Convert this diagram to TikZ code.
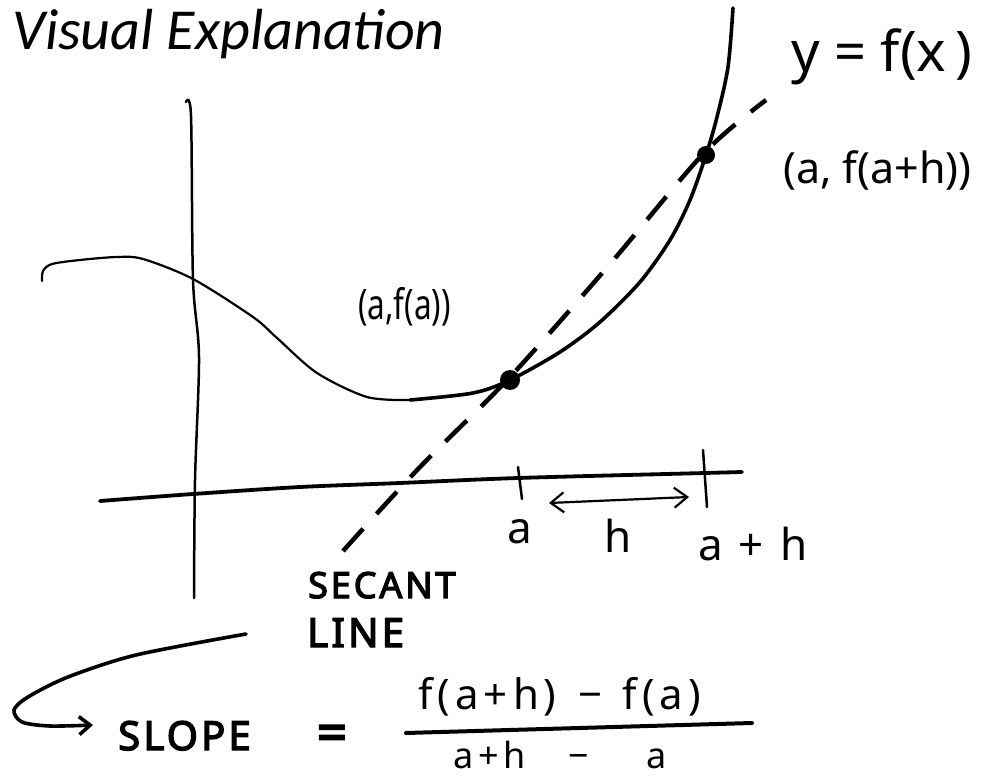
\documentclass[tikz,border=0pt]{standalone}
\usepackage{fontspec}
\usepackage{graphicx}
\setmainfont{Noto Sans}
\newfontfamily\titlefont{Carlito}
\newfontfamily\hand{Noto Sans}
\newfontfamily\handsp{Noto Sans}[LetterSpace=12]
\newfontfamily\capsp{Noto Sans}[LetterSpace=8,FakeBold=3.5]
\newfontfamily\handbold{Noto Sans}[FakeBold=4]
\usetikzlibrary{arrows.meta}
\begin{document}
\begin{tikzpicture}[x=1pt,y=-1pt,
  ink/.style={line cap=round,line join=round},
  thininkline/.style={ink,line width=2.2pt},
  thickinkline/.style={ink,line width=3.6pt},
  axisline/.style={ink,line width=3.8pt},
  tickline/.style={ink,line width=2.5pt},
  secantline/.style={line width=4.5pt,dash pattern=on 30pt off 20pt},
  txt/.style={inner sep=0pt,anchor=base west},
  hand/.style={font={\hand\fontsize{#1}{#1}\selectfont}},
  handsp/.style={font={\handsp\fontsize{#1}{#1}\selectfont}},
  caps/.style={font={\capsp\fontsize{#1}{#1}\selectfont}},
  barb/.tip={Straight Barb[length=13pt,width=20pt]}
]
\useasboundingbox[fill=white] (0,0) rectangle (982,783);

% title
\node[txt,font={\titlefont\itshape\fontsize{58}{60}\selectfont}] (title) at (12,50) {Visual Explanation};

% key points
\coordinate (Pa)  at (510,380);
\coordinate (Pah) at (706,155);

% y-axis
\coordinate (yTop) at (186,102);
\coordinate (yBot) at (194,598);
\draw[ink,line width=2.5pt] plot[smooth] coordinates {(yTop) (191,116) (193,280) (199,357) (195,480) (yBot)};

% x-axis
\coordinate (xLeft)  at (100,501);
\coordinate (xRight) at (742,472);
\draw[axisline] plot[smooth] coordinates {(xLeft) (193,494) (300,487) (400,483) (518,478) (705,473) (xRight)};

% ticks
\coordinate (taTop) at (518,467);  \coordinate (taBot) at (522,499);
\coordinate (tbTop) at (703,450);  \coordinate (tbBot) at (707,507);
\draw[tickline] (taTop) -- (taBot);
\draw[tickline] (tbTop) -- (tbBot);

% h arrow
\coordinate (hL) at (549,503);
\coordinate (hR) at (689,497);
\draw[ink,line width=2.2pt,{barb}-{barb}] (hL) -- (hR);

% function curve
\draw[thininkline] plot[smooth] coordinates {(42,281) (43,271) (52,264) (80,260) (117,257) (143,259) (193,279) (253,317) (277,338) (317,373) (367,397) (410,400)};
\draw[thickinkline] plot[smooth] coordinates {(410,400) (473,393) (Pa) (560,352) (600,322) (640,282) (670,240) (690,200) (Pah) (717,117) (728,67) (733,8)};

% secant line
\coordinate (sBot) at (343,551);
\coordinate (sTop) at (766,100);
\draw[secantline] plot[smooth] coordinates {(sBot) (420,467) (510,377) (610,264) (704,153) (sTop)};

% points
\fill (Pa) circle[radius=10pt];
\fill (Pah) circle[radius=9pt];

% labels
\node[txt,hand=56] (yfx) at (791,72) {y = f(x\,)};
\node[txt,hand=43] (pah) at (783,184) {(a, f(a+h))};
\node[txt,hand=42] (pa) at (358,320) {\scalebox{0.75}[1]{(a,f(a))}};
\node[inner sep=0pt,anchor=base,hand=44] (la) at (520,543) {a};
\node[inner sep=0pt,anchor=base,hand=44] (lh) at (618,552) {h};
\node[txt,hand=44] (lah) at (698,560) {a\hspace{16pt}+\hspace{16pt}h};

\node[txt,caps=36] (secant) at (308,598) {SECANT};
\node[txt,caps=40] (line) at (307,647) {LINE};
\node[txt,caps=40] (slope) at (118,750) {SLOPE};

% curved arrow from "secant line" to "slope"
\coordinate (arcStart) at (246,634);
\coordinate (arcTip) at (93,725);
\draw[ink,line width=3.6pt,-{Straight Barb[length=11pt,width=18pt]}] plot[smooth] coordinates {(arcStart) (136,655) (68,677) (28,697) (14,710) (22,722) (50,726) (arcTip)};

% formula
\node[inner sep=0pt,font={\handbold\fontsize{52}{52}\selectfont}] (eq) at (332,738) {=};
\coordinate (barL) at (406,733);
\coordinate (barR) at (752,723);
\draw[ink,line width=4pt] (barL) -- (barR);
\node[txt,handsp=42] (num) at (418,709) {f(a+h)\hspace{22pt}−\hspace{20pt}f(a)};
\node[txt,handsp=36] (den) at (453,768) {a\hspace{5pt}+\hspace{5pt}h\hspace{42pt}−\hspace{58pt}a};
\end{tikzpicture}
\end{document}
